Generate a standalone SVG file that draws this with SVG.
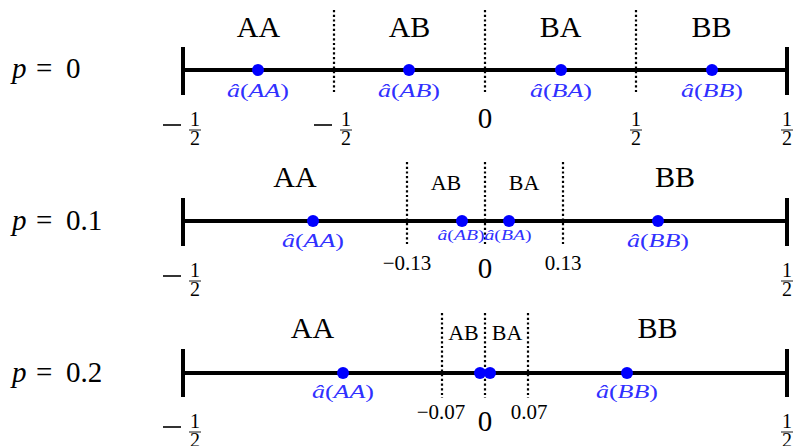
<svg xmlns="http://www.w3.org/2000/svg" width="795" height="446" viewBox="0 0 795 446" font-family="'Liberation Serif', 'DejaVu Serif', 'Times New Roman', serif">
<style>
text{font-family:'Liberation Serif','DejaVu Serif','Times New Roman',serif;fill:#000}
.big{font-size:30px;text-anchor:middle}
.sm{font-size:22px;text-anchor:middle}
.tick{font-size:21px;text-anchor:middle}
.zero{font-size:29px;text-anchor:middle}
.fr{font-size:20px;text-anchor:middle}
.pl{font-size:29px}
.lab{font-size:19px;text-anchor:middle;fill:#3030ff}
.labs{font-size:15px;text-anchor:middle;fill:#3030ff}
.it{font-style:italic}
.axis{stroke:#000;stroke-width:4;fill:none}
.dot{stroke:#000;stroke-width:2.2;stroke-dasharray:2.2 2.5;fill:none}
.fb{stroke:#000;stroke-width:0.9}
.mline{stroke:#000;stroke-width:1.6}
.pt{fill:#0000ff}
</style>
<defs>
<g id="mhalf"><line class="mline" x1="-32" y1="-1" x2="-14" y2="-1"/><text class="fr" x="0" y="0">1</text><line class="fb" x1="-6" y1="4" x2="6" y2="4"/><text class="fr" x="0" y="19">2</text></g>
<g id="phalf"><text class="fr" x="0" y="0">1</text><line class="fb" x1="-6" y1="4" x2="6" y2="4"/><text class="fr" x="0" y="19">2</text></g>
</defs>

<g id="row-p0">
<text class="pl" x="12" y="78"><tspan class="it">p</tspan><tspan x="36">=</tspan><tspan x="66">0</tspan></text>
<line class="dot" x1="334" y1="10" x2="334" y2="94"/>
<line class="dot" x1="485" y1="10" x2="485" y2="94"/>
<line class="dot" x1="636" y1="10" x2="636" y2="94"/>
<line class="axis" x1="183" y1="70" x2="787" y2="70"/>
<line class="axis" x1="183" y1="47" x2="183" y2="95"/>
<line class="axis" x1="787" y1="47" x2="787" y2="95"/>
<text class="big" x="258.5" y="37">AA</text>
<text class="big" x="409.5" y="37">AB</text>
<text class="big" x="560.5" y="37">BA</text>
<text class="big" x="711.5" y="37">BB</text>
<circle class="pt" cx="258" cy="70" r="6"/>
<circle class="pt" cx="409" cy="70" r="6"/>
<circle class="pt" cx="561" cy="70" r="6"/>
<circle class="pt" cx="712" cy="70" r="6"/>
<text class="lab" x="258" y="97" textLength="62" lengthAdjust="spacingAndGlyphs"><tspan class="it">â</tspan>(<tspan class="it">AA</tspan>)</text>
<text class="lab" x="409" y="97" textLength="62" lengthAdjust="spacingAndGlyphs"><tspan class="it">â</tspan>(<tspan class="it">AB</tspan>)</text>
<text class="lab" x="561" y="97" textLength="62" lengthAdjust="spacingAndGlyphs"><tspan class="it">â</tspan>(<tspan class="it">BA</tspan>)</text>
<text class="lab" x="712" y="97" textLength="62" lengthAdjust="spacingAndGlyphs"><tspan class="it">â</tspan>(<tspan class="it">BB</tspan>)</text>
<use href="#mhalf" x="195" y="126"/>
<use href="#mhalf" x="346" y="126"/>
<text class="zero" x="485" y="128">0</text>
<use href="#phalf" x="636" y="126"/>
<use href="#phalf" x="787" y="126"/>
</g>

<g id="row-p01">
<text class="pl" x="12" y="230"><tspan class="it">p</tspan><tspan x="36">=</tspan><tspan x="66">0.1</tspan></text>
<line class="dot" x1="407" y1="162" x2="407" y2="246"/>
<line class="dot" x1="485" y1="162" x2="485" y2="246"/>
<line class="dot" x1="563" y1="162" x2="563" y2="246"/>
<line class="axis" x1="183" y1="221" x2="787" y2="221"/>
<line class="axis" x1="183" y1="198" x2="183" y2="246"/>
<line class="axis" x1="787" y1="198" x2="787" y2="246"/>
<text class="big" x="295" y="187">AA</text>
<text class="sm" x="446" y="190">AB</text>
<text class="sm" x="524" y="190">BA</text>
<text class="big" x="675" y="187">BB</text>
<circle class="pt" cx="313" cy="221" r="6"/>
<circle class="pt" cx="462" cy="221" r="6"/>
<circle class="pt" cx="509" cy="221" r="6"/>
<circle class="pt" cx="658" cy="221" r="6"/>
<text class="lab" x="313" y="247" textLength="62" lengthAdjust="spacingAndGlyphs"><tspan class="it">â</tspan>(<tspan class="it">AA</tspan>)</text>
<text class="labs" x="461" y="240" textLength="47" lengthAdjust="spacingAndGlyphs"><tspan class="it">â</tspan>(<tspan class="it">AB</tspan>)</text>
<text class="labs" x="508" y="240" textLength="47" lengthAdjust="spacingAndGlyphs"><tspan class="it">â</tspan>(<tspan class="it">BA</tspan>)</text>
<text class="lab" x="658" y="247" textLength="62" lengthAdjust="spacingAndGlyphs"><tspan class="it">â</tspan>(<tspan class="it">BB</tspan>)</text>
<use href="#mhalf" x="195" y="277"/>
<text class="tick" x="407" y="270">−0.13</text>
<text class="zero" x="485" y="278">0</text>
<text class="tick" x="563" y="270">0.13</text>
<use href="#phalf" x="787" y="277"/>
</g>

<g id="row-p02">
<text class="pl" x="12" y="382"><tspan class="it">p</tspan><tspan x="36">=</tspan><tspan x="66">0.2</tspan></text>
<line class="dot" x1="442" y1="313" x2="442" y2="398"/>
<line class="dot" x1="485" y1="313" x2="485" y2="398"/>
<line class="dot" x1="528" y1="313" x2="528" y2="398"/>
<line class="axis" x1="183" y1="373" x2="787" y2="373"/>
<line class="axis" x1="183" y1="349" x2="183" y2="397"/>
<line class="axis" x1="787" y1="349" x2="787" y2="397"/>
<text class="big" x="312.5" y="338">AA</text>
<text class="sm" x="463.5" y="340">AB</text>
<text class="sm" x="507" y="340">BA</text>
<text class="big" x="657.5" y="338">BB</text>
<circle class="pt" cx="343" cy="373" r="6"/>
<circle class="pt" cx="480" cy="373" r="6"/>
<circle class="pt" cx="490" cy="373" r="6"/>
<circle class="pt" cx="627" cy="373" r="6"/>
<text class="lab" x="343" y="398" textLength="62" lengthAdjust="spacingAndGlyphs"><tspan class="it">â</tspan>(<tspan class="it">AA</tspan>)</text>
<text class="lab" x="627" y="398" textLength="62" lengthAdjust="spacingAndGlyphs"><tspan class="it">â</tspan>(<tspan class="it">BB</tspan>)</text>
<use href="#mhalf" x="195" y="428"/>
<text class="tick" x="441" y="419">−0.07</text>
<text class="zero" x="485" y="431">0</text>
<text class="tick" x="529" y="419">0.07</text>
<use href="#phalf" x="787" y="428"/>
</g>
</svg>
